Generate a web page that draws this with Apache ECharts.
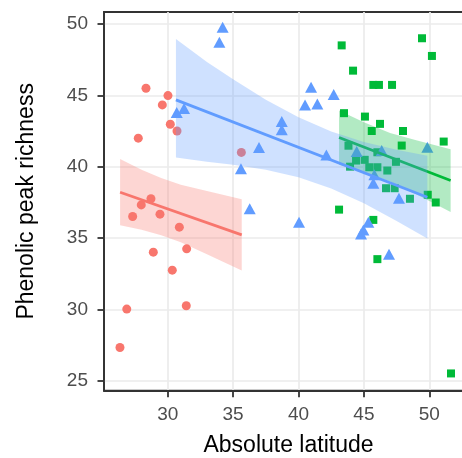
<!DOCTYPE html>
<html>
<head>
<meta charset="utf-8">
<script src="https://cdn.jsdelivr.net/npm/echarts@6/dist/echarts.min.js"></script>
<style>
    html, body { margin: 0; padding: 0; background: #fff; }
    #chart { width: 462px; height: 458px; }
</style>
</head>
<body>
<div id="chart"></div>
<script>
// tick labels
var xTicks = [30, 35, 40, 45, 50];
var yTicks = [25, 30, 35, 40, 45, 50];

// points: [absolute latitude, phenolic peak richness]
var redPoints = [
    [28.34, 45.5], [30.02, 44.98], [29.59, 44.33], [30.2, 42.97], [30.71, 42.5], [27.75, 42.0],
    [35.63, 41.0], [28.72, 37.75], [27.98, 37.32], [27.32, 36.51], [29.41, 36.67], [30.89, 35.76],
    [28.9, 34.01], [31.45, 34.24], [30.35, 32.75], [26.87, 30.02], [31.42, 30.25], [26.35, 27.33]
];
var bluePoints = [
    [34.2, 49.77], [33.95, 48.72], [30.69, 43.79], [31.25, 44.07], [38.72, 43.16], [38.72, 42.58],
    [36.98, 41.34], [35.6, 39.85], [36.27, 37.05], [40.96, 45.57], [40.5, 44.33], [41.44, 44.4],
    [42.69, 45.05], [42.13, 40.81], [44.45, 41.06], [46.36, 41.13], [45.8, 39.43], [45.72, 38.84],
    [47.68, 37.79], [49.85, 41.37], [40.04, 36.11], [45.34, 36.11], [44.96, 35.57], [44.78, 35.29],
    [46.92, 33.87]
];
var greenPoints = [
    [43.3, 48.5], [44.17, 46.73], [45.72, 45.73], [46.15, 45.73], [47.15, 45.73], [49.44, 49.0],
    [50.2, 47.76], [43.48, 43.75], [45.08, 43.51], [46.23, 43.0], [45.6, 42.5], [47.99, 42.5],
    [51.1, 41.76], [47.89, 41.48], [43.82, 41.47], [44.4, 40.43], [45.06, 40.48], [46.03, 41.01],
    [43.94, 40.0], [45.41, 39.96], [46.03, 39.96], [47.45, 40.34], [46.79, 39.73], [46.69, 38.49],
    [47.35, 38.49], [48.52, 37.75], [49.88, 38.03], [50.49, 37.49], [43.1, 36.99], [45.72, 36.27],
    [46.03, 33.52], [51.66, 25.51]
];

// fitted lines (end points)
var redLine = [[26.36, 38.21], [35.66, 35.22]];
var blueLine = [[30.63, 44.68], [49.85, 37.86]];
var greenLine = [[43.1, 42.04], [51.63, 39.03]];

// confidence bands: [x, lower, upper]
var redBand = [
    [26.36, 35.89, 40.53], [28, 35.58, 39.78], [29.5, 35.2, 39.2],
    [31, 34.7, 38.74], [33, 33.87, 38.29], [35.66, 32.72, 37.72]
];
var blueBand = [
    [30.63, 40.65, 48.95], [33, 40.34, 47.34], [35, 40.13, 46.13], [37.5, 39.79, 44.69],
    [40, 39.26, 43.46], [42.5, 38.47, 42.47], [45, 37.43, 41.73], [47.5, 36.19, 41.19],
    [49.85, 34.96, 40.76]
];
var greenBand = [
    [43.1, 40.14, 43.94], [45, 39.62, 43.12], [47, 38.96, 42.36],
    [49, 38.06, 41.86], [51.63, 36.83, 41.23]
];

var fontName = '"Liberation Sans", Arial, sans-serif';

// band polygon drawn with the axis scales
function bandSeries(band, color, z) {
    return {
        type: 'custom',
        z: z,
        silent: true,
        data: band,
        encode: { x: 0, y: [1, 2] },
        renderItem: function (params, api) {
            if (params.dataIndex !== 0) return;
            var pts = [];
            for (var i = 0; i < band.length; i++) {
                pts.push(api.coord([band[i][0], band[i][2]]));
            }
            for (var j = band.length - 1; j >= 0; j--) {
                pts.push(api.coord([band[j][0], band[j][1]]));
            }
            return {
                type: 'polygon',
                shape: { points: pts },
                style: { fill: color, opacity: 0.3 }
            };
        }
    };
}

function lineSeries(data, color, z) {
    return {
        type: 'line',
        z: z,
        data: data,
        showSymbol: false,
        silent: true,
        lineStyle: { color: color, width: 2.8 }
    };
}

function pointSeries(data, color, symbol, size) {
    return {
        type: 'scatter',
        z: 2,
        data: data,
        symbol: symbol,
        symbolSize: size,
        itemStyle: { color: color, opacity: 1 }
    };
}

var myChart = echarts.init(document.getElementById('chart'), null, { renderer: 'canvas' });

var option = {
    backgroundColor: '#fff',
    animation: false,
    grid: {
        left: 104,
        top: 12,
        width: 369,
        height: 378.7,
        outerBoundsMode: 'none',
        containLabel: false,
        show: true,
        backgroundColor: '#fff',
        borderColor: '#333',
        borderWidth: 1.8
    },
    xAxis: {
        type: 'value',
        min: 25.13,
        max: 53.34,
        name: 'Absolute latitude',
        nameLocation: 'middle',
        nameGap: 43,
        nameTextStyle: { color: '#000', fontSize: 23, fontFamily: fontName },
        axisLine: { show: true, lineStyle: { color: '#333', width: 1.8 } },
        axisTick: { show: true, length: 6.5, customValues: xTicks, lineStyle: { color: '#333', width: 1.8 } },
        axisLabel: { customValues: xTicks, color: '#4D4D4D', fontSize: 19, margin: 15, fontFamily: fontName },
        splitLine: { show: true, lineStyle: { color: '#EBEBEB', width: 1.7 } }
    },
    yAxis: {
        type: 'value',
        min: 24.3,
        max: 50.84,
        name: 'Phenolic peak richness',
        nameLocation: 'middle',
        nameGap: 66,
        nameTextStyle: { color: '#000', fontSize: 23, fontFamily: fontName },
        axisLine: { show: true, lineStyle: { color: '#333', width: 1.8 } },
        axisTick: { show: true, length: 6.5, customValues: yTicks, lineStyle: { color: '#333', width: 1.8 } },
        axisLabel: { customValues: yTicks, color: '#4D4D4D', fontSize: 19, margin: 16, padding: [5, 0, 0, 0], fontFamily: fontName },
        splitLine: { show: true, lineStyle: { color: '#EBEBEB', width: 1.7 } }
    },
    series: [
        pointSeries(redPoints, '#F8766D', 'circle', 9),
        pointSeries(greenPoints, '#00BA38', 'rect', 8),
        pointSeries(bluePoints, '#619CFF', 'triangle', [12, 11]),
        bandSeries(redBand, '#F8766D', 3),
        lineSeries(redLine, '#F8766D', 4),
        bandSeries(greenBand, '#00BA38', 5),
        lineSeries(greenLine, '#00BA38', 6),
        bandSeries(blueBand, '#619CFF', 7),
        lineSeries(blueLine, '#619CFF', 8)
    ]
};
myChart.setOption(option);
</script>
</body>
</html>
